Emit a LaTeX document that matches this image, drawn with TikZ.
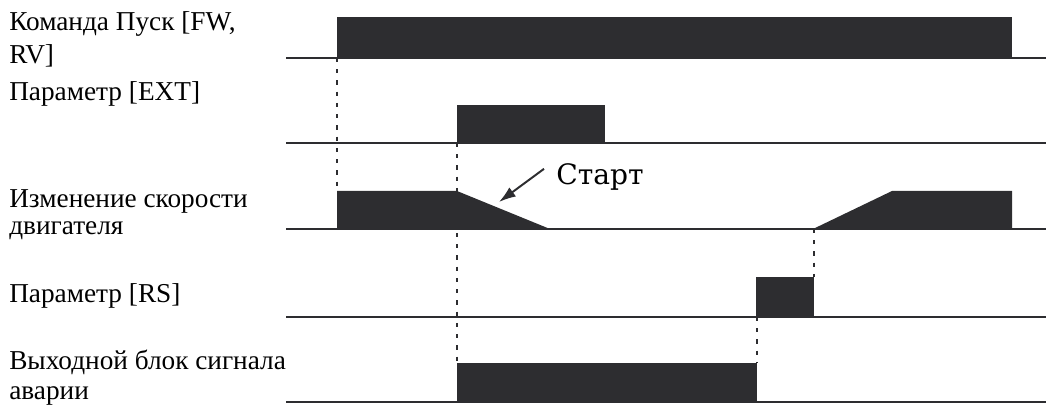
\documentclass[tikz,border=0pt]{standalone}
\usepackage{fontspec}
\setmainfont{Liberation Serif}
\newfontfamily\startfont{DejaVu Serif}
\usetikzlibrary{arrows.meta,positioning}
\definecolor{pulsegray}{RGB}{45,45,48}

\begin{document}
\begin{tikzpicture}[x=0.025cm, y=-0.025cm,
    every node/.style={font=\fontsize{19.4}{23.5}\selectfont, inner sep=0pt, align=left, anchor=base west},
    axis/.style={line width=1.3pt, draw=pulsegray},
    guide/.style={line width=1.5pt, draw=pulsegray, dash pattern=on 3pt off 5pt}]
    \useasboundingbox (0,0) rectangle (1046,405);

    % signal names (anchor = baseline of last line)
    \node (run) at (9,64) {Команда Пуск [FW,\\RV]};
    \node (ext) at (9,101) {Параметр [EXT]};
    \node (speed) at (9,235) {Изменение скорости\\[-3.6pt]двигателя};
    \node (rs) at (9,303) {Параметр [RS]};
    \node (alarm) at (9,400) {Выходной блок сигнала\\[-1.5pt]аварии};

    % time axes
    \foreach \y in {58,143,229,317,402}
        \draw[axis] (286,\y) -- (1046,\y);

    % waveforms
    \fill[pulsegray] (337,58) -- (337,17) -- (1012,17) -- (1012,58) -- cycle;
    \fill[pulsegray] (457,143) -- (457,105) -- (605,105) -- (605,143) -- cycle;
    \fill[pulsegray] (337,229) -- (337,191) -- (457,191) -- (550,229) -- cycle;
    \fill[pulsegray] (813,229) -- (892,191) -- (1012,191) -- (1012,229) -- cycle;
    \fill[pulsegray] (756,317) -- (756,277) -- (814,277) -- (814,317) -- cycle;
    \fill[pulsegray] (457,402) -- (457,363) -- (757,363) -- (757,402) -- cycle;

    % timing guides
    \draw[guide] (337,58) -- (337,191);
    \draw[guide] (457,143) -- (457,363);
    \draw[guide] (814,229) -- (814,277);
    \draw[guide] (757,317) -- (757,363);

    % start marker
    \node[font=\startfont\fontsize{20}{24}\selectfont] (startlbl) at (556,185) {Старт};
    \coordinate (ramp) at (499,202);
    \draw[line width=1.4pt, pulsegray, -{Latex[length=12pt, width=8pt]}] ([shift={(-12,5)}]startlbl.north west) -- (ramp);
\end{tikzpicture}
\end{document}
